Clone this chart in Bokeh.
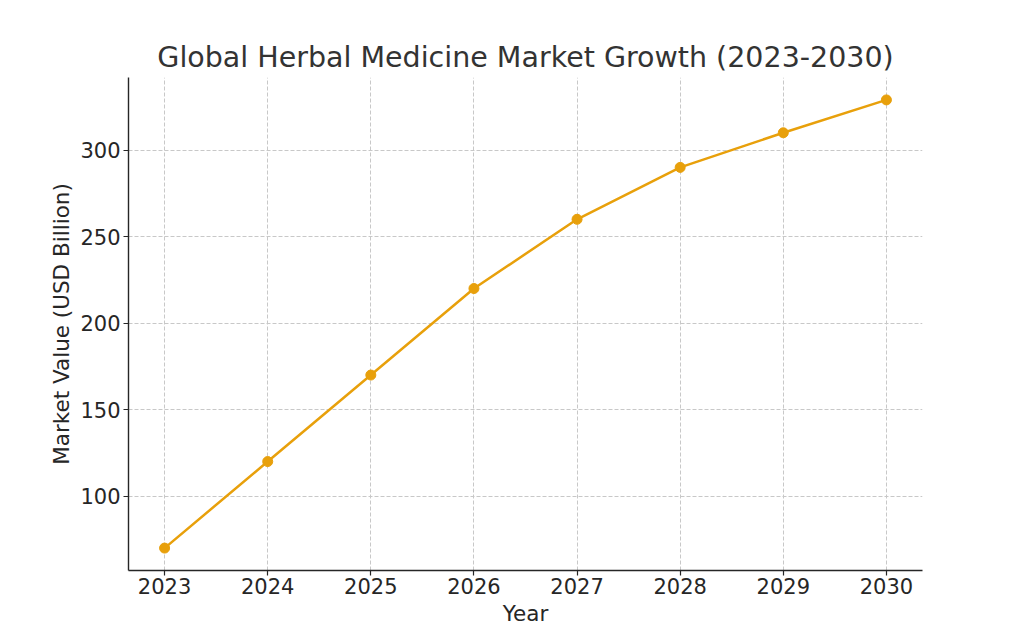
from bokeh.plotting import figure
from bokeh.models import ColumnDataSource, Range1d, FixedTicker
from bokeh.embed import file_html
from bokeh.resources import INLINE

# Market size by year (USD billion)
years = [2023, 2024, 2025, 2026, 2027, 2028, 2029, 2030]
market_value = [70, 120, 170, 220, 260, 290, 310, 329]
y_ticks = [100, 150, 200, 250, 300]

title_text = "Global Herbal Medicine Market Growth (2023-2030)"
x_label = "Year"
y_label = "Market Value (USD Billion)"

FONT = "DejaVu Sans"
LINE_COLOR = "#E8A00B"
TEXT_COLOR = "#262626"


def padded(lo, hi, frac=0.05):
    pad = (hi - lo) * frac
    return lo - pad, hi + pad


x0, x1 = padded(min(years), max(years))
y0, y1 = padded(min(market_value), max(market_value))

source = ColumnDataSource(data=dict(year=years, value=market_value))

p = figure(
    width=1024,
    height=640,
    x_range=Range1d(x0, x1),
    y_range=Range1d(y0, y1),
    output_backend="svg",
    toolbar_location=None,
    min_border_left=128,
    min_border_right=102,
    min_border_top=77,
    min_border_bottom=70,
    background_fill_color="white",
    border_fill_color="white",
    outline_line_color=None,
)

p.title.text = title_text
p.title.align = "center"
p.title.text_font = FONT
p.title.text_font_size = "28.5px"
p.title.text_font_style = "normal"
p.title.text_color = "#333333"
p.title.standoff = 7

p.line("year", "value", source=source, line_color=LINE_COLOR, line_width=2.5)
p.scatter("year", "value", source=source, size=10, fill_color=LINE_COLOR,
          line_color=LINE_COLOR)

p.xaxis.ticker = FixedTicker(ticks=years)
p.yaxis.ticker = FixedTicker(ticks=y_ticks)

for ax in (p.xaxis[0], p.yaxis[0]):
    ax.axis_line_color = "#262626"
    ax.axis_line_width = 1.4
    ax.major_tick_line_color = "#262626"
    ax.major_tick_line_width = 1.2
    ax.major_tick_in = 0
    ax.major_tick_out = 5
    ax.minor_tick_line_color = None
    ax.major_label_text_font = FONT
    ax.major_label_text_font_size = "21px"
    ax.major_label_text_color = TEXT_COLOR
    ax.axis_label_text_font = FONT
    ax.axis_label_text_font_size = "21.5px"
    ax.axis_label_text_font_style = "normal"
    ax.axis_label_text_color = TEXT_COLOR

p.xaxis.axis_label = x_label
p.yaxis.axis_label = y_label
p.xaxis.major_label_standoff = 2
p.yaxis.major_label_standoff = 3
p.xaxis.axis_label_standoff = 4
p.yaxis.axis_label_standoff = 3

for g in (p.xgrid[0], p.ygrid[0]):
    g.grid_line_color = "#c8c8c8"
    g.grid_line_width = 1
    g.grid_line_dash = "4 2"

open("out.html", "w").write(file_html(p, INLINE))
